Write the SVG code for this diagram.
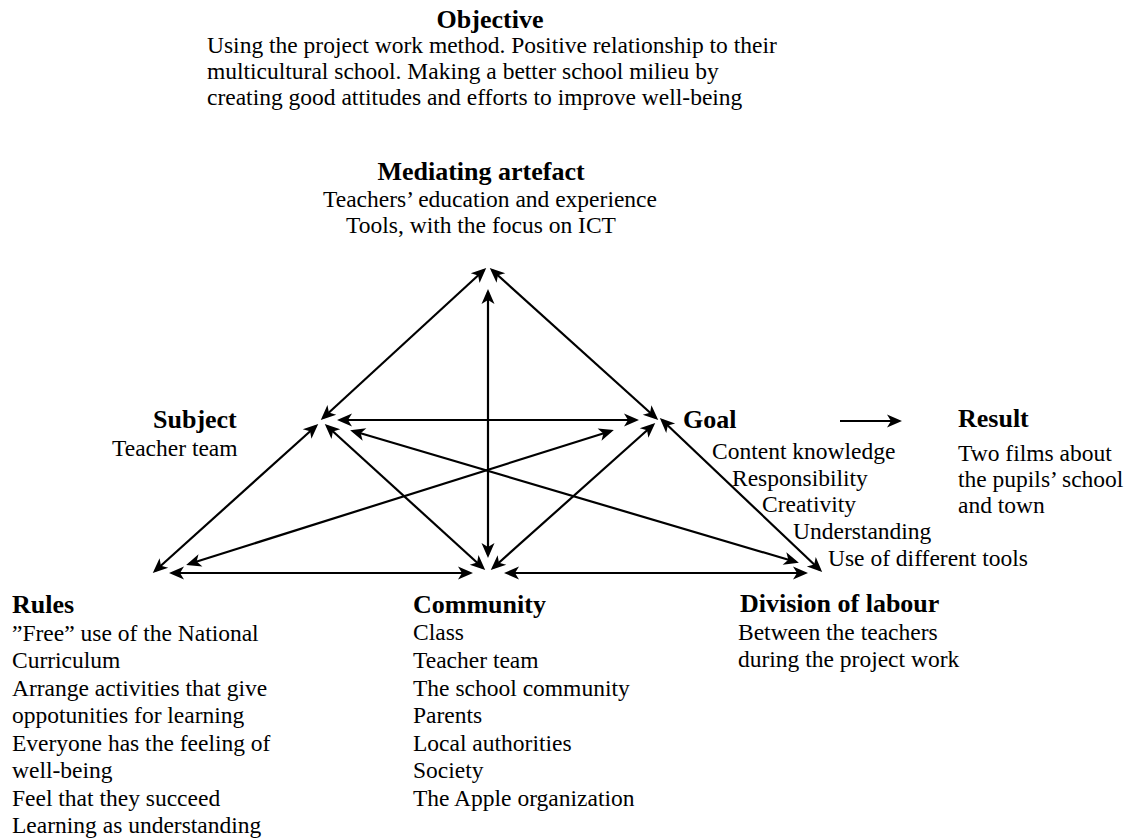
<svg xmlns="http://www.w3.org/2000/svg" width="1135" height="839" viewBox="0 0 1135 839">
  <style>
    text { font-family: "Liberation Serif", "Times New Roman", serif; fill: #000; }
    .h { font-size: 26px; font-weight: bold; }
    .b { font-size: 23.5px; }
    .c { text-anchor: middle; }
    .link { stroke: #000; stroke-width: 2.2; fill: none; }
    .both { marker-start: url(#head); marker-end: url(#head); }
    .one { marker-end: url(#head); }
  </style>
  <defs>
    <!-- notched arrowhead, reused at both ends of the two-way links -->
    <marker id="head" viewBox="-14 -8 18 16" refX="0" refY="0" markerWidth="18" markerHeight="16" markerUnits="userSpaceOnUse" orient="auto-start-reverse">
      <path d="M3,0 L-12,-6.5 L-8,0 L-12,6.5 Z" fill="#000"/>
    </marker>
  </defs>
  <rect width="1135" height="839" fill="#fff"/>

  <g id="connectors">
    <line class="link both" x1="484" y1="270" x2="323" y2="418"/>
    <line class="link both" x1="492" y1="270" x2="656" y2="418"/>
    <line class="link both" x1="488" y1="292" x2="488" y2="555"/>
    <line class="link both" x1="340" y1="420" x2="636" y2="420"/>
    <line class="link both" x1="316" y1="426" x2="155" y2="571"/>
    <line class="link both" x1="327" y1="426" x2="483" y2="568"/>
    <line class="link both" x1="353" y1="431" x2="796" y2="562"/>
    <line class="link both" x1="611" y1="431" x2="189" y2="564"/>
    <line class="link both" x1="653" y1="425" x2="493" y2="568"/>
    <line class="link both" x1="662" y1="420" x2="820" y2="570"/>
    <line class="link both" x1="172" y1="573" x2="470" y2="573"/>
    <line class="link both" x1="507" y1="573" x2="805" y2="573"/>
    <line class="link one" x1="840" y1="421" x2="899" y2="421"/>
  </g>

  <g id="objective">
    <text class="h c" x="490" y="28">Objective</text>
    <text class="b" x="207" y="53">Using the project work method. Positive relationship to their</text>
    <text class="b" x="207" y="79">multicultural school. Making a better school milieu by</text>
    <text class="b" x="207" y="105">creating good attitudes and efforts to improve well-being</text>
  </g>

  <g id="mediating-artefact">
    <text class="h c" x="481" y="180">Mediating artefact</text>
    <text class="b c" x="490" y="207">Teachers’ education and experience</text>
    <text class="b c" x="481" y="233">Tools, with the focus on ICT</text>
  </g>

  <g id="subject">
    <text class="h" x="153" y="428">Subject</text>
    <text class="b" x="112" y="456">Teacher team</text>
  </g>

  <g id="goal">
    <text class="h" x="683" y="428">Goal</text>
    <text class="b" x="712" y="459">Content knowledge</text>
    <text class="b" x="732" y="486">Responsibility</text>
    <text class="b" x="762" y="512">Creativity</text>
    <text class="b" x="793" y="539">Understanding</text>
    <text class="b" x="828" y="566">Use of different tools</text>
  </g>

  <g id="result">
    <text class="h" x="958" y="427">Result</text>
    <text class="b" x="958" y="461">Two films about</text>
    <text class="b" x="958" y="487">the pupils’ school</text>
    <text class="b" x="958" y="513">and town</text>
  </g>

  <g id="rules">
    <text class="h" x="12" y="613">Rules</text>
    <text class="b" x="12" y="641">”Free” use of the National</text>
    <text class="b" x="12" y="668">Curriculum</text>
    <text class="b" x="12" y="696">Arrange activities that give</text>
    <text class="b" x="12" y="723">oppotunities for learning</text>
    <text class="b" x="12" y="751">Everyone has the feeling of</text>
    <text class="b" x="12" y="778">well-being</text>
    <text class="b" x="12" y="806">Feel that they succeed</text>
    <text class="b" x="12" y="833">Learning as understanding</text>
  </g>

  <g id="community">
    <text class="h" x="413" y="613">Community</text>
    <text class="b" x="413" y="640">Class</text>
    <text class="b" x="413" y="668">Teacher team</text>
    <text class="b" x="413" y="696">The school community</text>
    <text class="b" x="413" y="723">Parents</text>
    <text class="b" x="413" y="751">Local authorities</text>
    <text class="b" x="413" y="778">Society</text>
    <text class="b" x="413" y="806">The Apple organization</text>
  </g>

  <g id="division-of-labour">
    <text class="h" x="740" y="612">Division of labour</text>
    <text class="b" x="738" y="640">Between the teachers</text>
    <text class="b" x="738" y="667">during the project work</text>
  </g>
</svg>
